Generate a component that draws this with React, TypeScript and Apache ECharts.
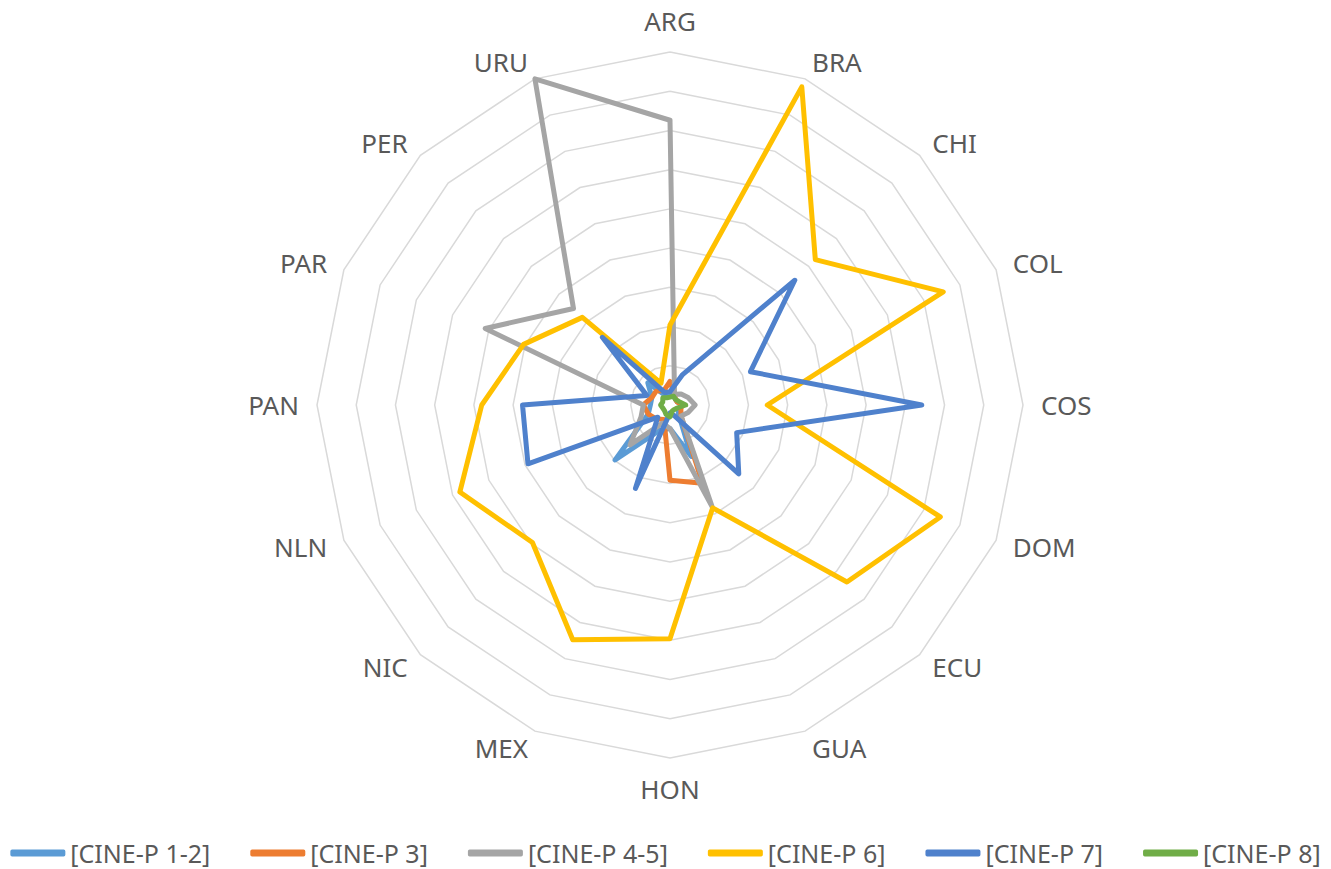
import React, { useEffect, useRef } from "react";
import * as echarts from "echarts";

const categories = ["ARG", "BRA", "CHI", "COL", "COS", "DOM", "ECU", "GUA", "HON", "MEX", "NIC", "NLN", "PAN", "PAR", "PER", "URU"];
const seriesNames = ["[CINE-P 1-2]", "[CINE-P 3]", "[CINE-P 4-5]", "[CINE-P 6]", "[CINE-P 7]", "[CINE-P 8]"];
const cineP12 = [1.5, 1.2, 1, 1, 1.5, 1.2, 1.5, 7.1, 3, 3.5, 9.9, 3, 2.5, 2.5, 4.0, 1.2];
const cineP3 = [3, 1.5, 1, 1, 1.5, 1.5, 2, 10.8, 9.6, 2, 2.5, 3, 3.4, 2.5, 2.5, 2];
const cineP45 = [36.3, 1.5, 2, 2.5, 3.2, 2.5, 2, 14.1, 3, 2.5, 7.2, 4, 3.4, 25.5, 17.4, 45];
const cineP6 = [10.2, 43.9, 26.2, 37.7, 12.4, 37.3, 31.9, 14.2, 29.8, 32.4, 24.8, 29.0, 24.0, 20.2, 15.8, 3];
const cineP7 = [1.7, 4.2, 22.5, 11.1, 32.1, 9.2, 12.4, 1.5, 1, 11.5, 2.2, 19.6, 18.8, 3.2, 12.2, 1.7];
const cineP8 = [1, 1.2, 1, 1.2, 2, 1, 0.8, 0.8, 1.5, 1.3, 1, 1, 1.2, 1, 1.3, 1];
const axisMax = 45;
const colors = ["#5B9BD5", "#ED7D31", "#A5A5A5", "#FFC000", "#4F81CC", "#70AD47"];

// ECharts radar runs counter-clockwise; reorder so categories go clockwise from top
const order = [0, ...Array.from({ length: categories.length - 1 }, (_, i) => categories.length - 1 - i)];
const reorder = (arr: any[]) => order.map((i) => arr[i]);

export default function App() {
  const ref = useRef<HTMLDivElement>(null);
  useEffect(() => {
    const chart = echarts.init(ref.current!, null, { renderer: "svg" });
    const allData = [cineP12, cineP3, cineP45, cineP6, cineP7, cineP8];
    chart.setOption({
      animation: false,
      backgroundColor: "#ffffff",
      legend: {
        data: seriesNames,
        left: "center",
        top: 838,
        padding: 0,
        icon: "roundRect",
        itemWidth: 55,
        itemHeight: 7,
        itemGap: 40,
        textStyle: { fontFamily: "Noto Sans", fontSize: 25, color: "#595959", lineHeight: 30 },
      },
      radar: {
        center: [670, 405],
        radius: 353,
        startAngle: 90,
        shape: "polygon",
        splitNumber: 9,
        nameGap: 18,
        indicator: reorder(categories).map((c) => ({ name: c, max: axisMax, min: 0 })),
        axisName: { color: "#595959", fontFamily: "Noto Sans", fontSize: 26 },
        axisLine: { show: false },
        axisTick: { show: false },
        axisLabel: { show: false },
        splitArea: { show: false },
        splitLine: { lineStyle: { color: "#D9D9D9", width: 1.5 } },
      },
      series: allData.map((d, i) => ({
        type: "radar",
        name: seriesNames[i],
        symbol: "none",
        z: 2 + i,
        itemStyle: { color: colors[i] },
        lineStyle: { color: colors[i], width: 5, join: "round", cap: "round" },
        data: [{ name: seriesNames[i], value: reorder(d) }],
      })),
    });
    return () => chart.dispose();
  }, []);
  return <div ref={ref} style={{ position: "fixed", left: 0, top: 0, width: 1331, height: 869 }} />;
}
